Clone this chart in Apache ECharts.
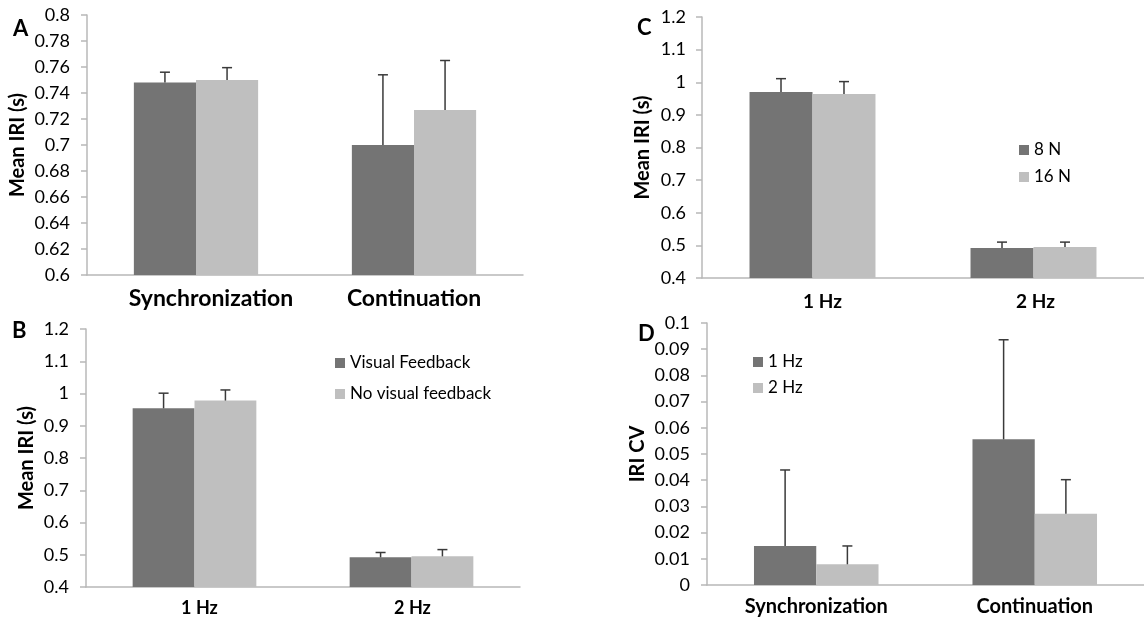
<!DOCTYPE html>
<html>
<head>
<meta charset="utf-8">
<script src="https://cdn.jsdelivr.net/npm/echarts@6/dist/echarts.min.js"></script>
<style>
  html, body { margin: 0; padding: 0; background: #fff; }
  #chart { width: 1144px; height: 620px; }
</style>
</head>
<body>
<div id="chart"></div>
<script>
// ---- data ----
const phaseCats = ['Synchronization', 'Continuation'];
const freqCats = ['1 Hz', '2 Hz'];

// Panel A: mean IRI by phase, visual feedback vs none
const aVisualMean = [0.748, 0.700];
const aVisualErr = [0.008, 0.054];
const aNoVisualMean = [0.750, 0.727];
const aNoVisualErr = [0.0095, 0.038];
const aTicks = { min: 0.6, max: 0.8, interval: 0.02 };

// Panel B: mean IRI by tempo, visual feedback vs none
const bVisualMean = [0.954, 0.492];
const bVisualErr = [0.047, 0.015];
const bNoVisualMean = [0.978, 0.495];
const bNoVisualErr = [0.033, 0.021];
const bTicks = { min: 0.4, max: 1.2, interval: 0.1 };

// Panel C: mean IRI by tempo, 8 N vs 16 N
const c8NMean = [0.970, 0.492];
const c8NErr = [0.041, 0.018];
const c16NMean = [0.964, 0.495];
const c16NErr = [0.038, 0.015];
const cTicks = { min: 0.4, max: 1.2, interval: 0.1 };

// Panel D: IRI CV by phase, 1 Hz vs 2 Hz
const d1HzMean = [0.0149, 0.0556];
const d1HzErr = [0.029, 0.038];
const d2HzMean = [0.0079, 0.0272];
const d2HzErr = [0.007, 0.013];
const dTicks = { min: 0, max: 0.1, interval: 0.01 };

// ---- styling ----
const FONT = 'Lato';
const DARK = '#747474';
const LIGHT = '#bfbfbf';
const AXIS = '#b8b8b8';
const ERR = '#3a3a3a';
const GAP = 0.43; // barCategoryGap fraction

const chart = echarts.init(document.getElementById('chart'));

function grid(left, top, width, height) {
  return { left, top, width, height, containLabel: false };
}

// shifts: horizontal nudge (px) of each category label to the right
function xAxis(idx, cats, fontSize, margin, shifts) {
  return {
    type: 'category', gridIndex: idx,
    data: cats.map((c, i) => ({
      value: c,
      textStyle: { padding: [0, 0, 0, 2 * (shifts[i] || 0)] }
    })),
    axisLine: { lineStyle: { color: AXIS, width: 1.5 } },
    axisTick: { show: false },
    axisLabel: { fontFamily: FONT, fontWeight: 'bold', fontSize, color: '#000', margin }
  };
}

function yAxis(idx, t, name, nameGap, labelMargin) {
  return {
    type: 'value', gridIndex: idx, min: t.min, max: t.max, interval: t.interval,
    name, nameLocation: 'middle', nameGap,
    nameTextStyle: { fontFamily: FONT, fontWeight: 'bold', fontSize: 20, color: '#000' },
    axisLine: { show: true, lineStyle: { color: AXIS, width: 1.5 } },
    axisTick: { show: true, length: 6, lineStyle: { color: AXIS, width: 1.5 } },
    splitLine: { show: false },
    axisLabel: { fontFamily: FONT, fontSize: 18, color: '#000', margin: labelMargin }
  };
}

function bars(idx, name, values, color) {
  return {
    type: 'bar', name, xAxisIndex: idx, yAxisIndex: idx, data: values,
    barGap: '0%', barCategoryGap: (GAP * 100) + '%',
    itemStyle: { color },
    emphasis: { disabled: true },
    z: 2
  };
}

// Upper error whisker for one bar of a two-bar group (side -1 = left bar, +1 = right bar)
function errors(idx, means, errs, side) {
  return {
    type: 'custom', xAxisIndex: idx, yAxisIndex: idx, z: 5,
    data: means.map((m, i) => [i, m, errs[i]]),
    renderItem(params, api) {
      const i = api.value(0), m = api.value(1), e = api.value(2);
      const band = api.size([1, 0])[0];
      const barW = band * (1 - GAP) / 2;
      const base = api.coord([i, m]);
      const top = api.coord([i, m + e]);
      const x = base[0] + side * barW / 2;
      const cap = 5;
      const style = { stroke: ERR, lineWidth: 1.5 };
      return {
        type: 'group',
        children: [
          { type: 'line', shape: { x1: x, y1: base[1], x2: x, y2: top[1] }, style },
          { type: 'line', shape: { x1: x - cap, y1: top[1], x2: x + cap, y2: top[1] }, style }
        ]
      };
    }
  };
}

function legend(names, left, top, gap) {
  return {
    data: names, left, top, orient: 'vertical', padding: 0,
    itemWidth: 10, itemHeight: 10, itemGap: gap, itemTextGap: 5,
    icon: 'rect', selectedMode: false,
    textStyle: { fontFamily: FONT, fontSize: 17, color: '#000', lineHeight: 20 }
  };
}

function letter(text, left, top) {
  return {
    type: 'text', left, top,
    style: { text, fontFamily: FONT, fontWeight: 'bold', fontSize: 22, fill: '#000' }
  };
}

chart.setOption({
  animation: false,
  grid: [
    grid(87, 15, 436, 260),
    grid(86, 329, 434, 258),
    grid(702, 17, 446, 261),
    grid(707, 323, 440, 262)
  ],
  xAxis: [
    xAxis(0, phaseCats, 23, 12, [15, 0]),
    xAxis(1, freqCats, 18, 12, [5, 1]),
    xAxis(2, freqCats, 19, 14, [10, 2]),
    xAxis(3, phaseCats, 20, 12, [0, 0])
  ],
  yAxis: [
    yAxis(0, aTicks, 'Mean IRI (s)', 59, 17),
    yAxis(1, bTicks, 'Mean IRI (s)', 49, 17),
    yAxis(2, cTicks, 'Mean IRI (s)', 49, 16),
    yAxis(3, dTicks, 'IRI CV', 59, 17)
  ],
  legend: [
    legend(['Visual Feedback', 'No visual feedback'], 335, 353, 11),
    legend(['8 N', '16 N'], 1019, 140, 7),
    legend(['1 Hz', '2 Hz'], 753, 352, 6)
  ],
  series: [
    bars(0, 'Visual Feedback', aVisualMean, DARK),
    bars(0, 'No visual feedback', aNoVisualMean, LIGHT),
    errors(0, aVisualMean, aVisualErr, -1),
    errors(0, aNoVisualMean, aNoVisualErr, 1),

    bars(1, 'Visual Feedback', bVisualMean, DARK),
    bars(1, 'No visual feedback', bNoVisualMean, LIGHT),
    errors(1, bVisualMean, bVisualErr, -1),
    errors(1, bNoVisualMean, bNoVisualErr, 1),

    bars(2, '8 N', c8NMean, DARK),
    bars(2, '16 N', c16NMean, LIGHT),
    errors(2, c8NMean, c8NErr, -1),
    errors(2, c16NMean, c16NErr, 1),

    bars(3, '1 Hz', d1HzMean, DARK),
    bars(3, '2 Hz', d2HzMean, LIGHT),
    errors(3, d1HzMean, d1HzErr, -1),
    errors(3, d2HzMean, d2HzErr, 1)
  ],
  graphic: [
    letter('A', 13, 18),
    letter('B', 12, 320),
    letter('C', 637, 17),
    letter('D', 638, 323)
  ]
});
</script>
</body>
</html>
